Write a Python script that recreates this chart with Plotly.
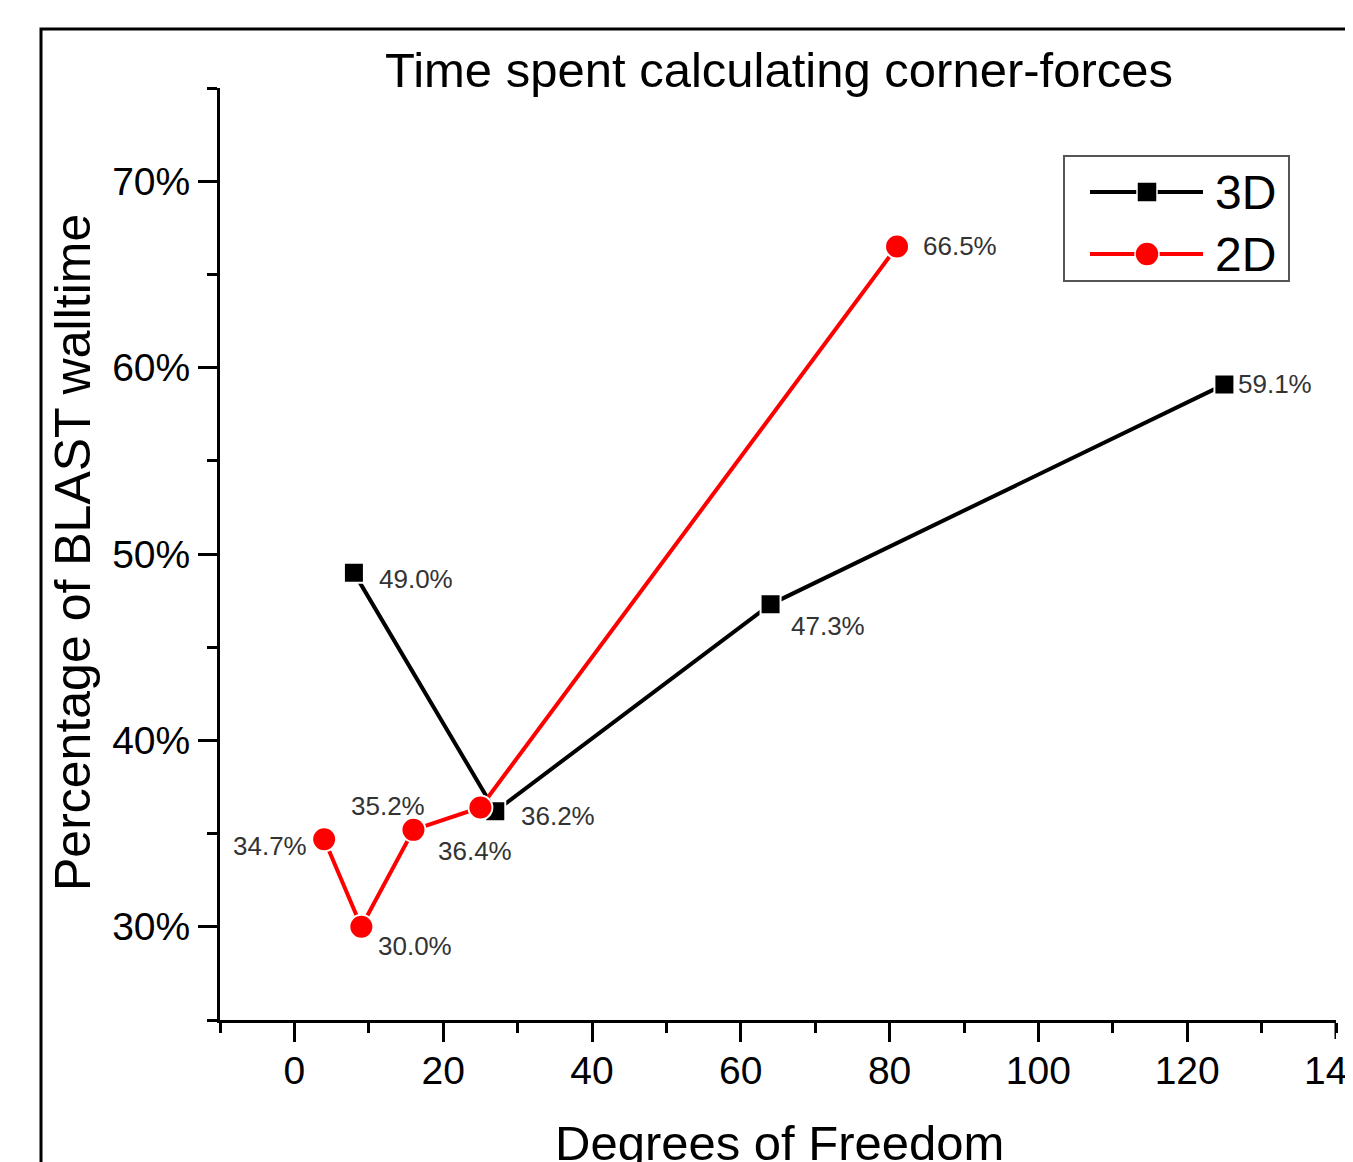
import plotly.graph_objects as go

# ---- data ----
dof_3d = [8, 27, 64, 125]
pct_3d = [49.0, 36.2, 47.3, 59.1]
dof_2d = [4, 9, 16, 25, 81]
pct_2d = [34.7, 30.0, 35.2, 36.4, 66.5]
labels_3d = ["49.0%", "36.2%", "47.3%", "59.1%"]
labels_2d = ["34.7%", "30.0%", "35.2%", "36.4%", "66.5%"]
x_ticks = [0, 20, 40, 60, 80, 100, 120, 140]
y_ticks = [30, 40, 50, 60, 70]
y_tick_text = ["30%", "40%", "50%", "60%", "70%"]

FONT = "Arial, Liberation Sans, Helvetica, sans-serif"
OFF = 8  # page body margin
W, H = 1353, 1162
# plot area in page pixels
L, R, T, B = 220, 1336, 88, 1020
PW, PH = R - L, B - T

def px(xp):
    return (xp - L) / PW

def py(yp):
    return (B - yp) / PH

fig = go.Figure()
fig.add_trace(go.Scatter(
    x=dof_3d, y=pct_3d, mode="lines+markers", name="3D",
    line=dict(color="black", width=4),
    marker=dict(symbol="square", size=20, color="black", line=dict(color="white", width=2)),
    showlegend=False))
fig.add_trace(go.Scatter(
    x=dof_2d, y=pct_2d, mode="lines+markers", name="2D",
    line=dict(color="#ff0000", width=4),
    marker=dict(symbol="circle", size=24, color="#ff0000", line=dict(color="white", width=2)),
    showlegend=False))

annotations = []
off_3d = [("left", 23, -6), ("left", 24, -5), ("left", 18, -22), ("left", 12, 0)]
off_2d = [("right", -15, -7), ("left", 15, -19), ("center", -25, 24), ("center", -5, -43), ("left", 24, 0)]
for xs, ys, labs, offs in [(dof_3d, pct_3d, labels_3d, off_3d), (dof_2d, pct_2d, labels_2d, off_2d)]:
    for xv, yv, lab, (anc, dx, dy) in zip(xs, ys, labs, offs):
        annotations.append(dict(x=xv, y=yv, xref="x", yref="y", text=lab, showarrow=False,
                                xanchor=anc, yanchor="middle", xshift=dx, yshift=dy,
                                font=dict(family=FONT, size=26, color="#333333")))

# last x tick label (drawn at the axis end, cut by the page edge as in the original)
annotations.append(dict(x=x_ticks[-1], y=py(1070), xref="x", yref="paper", text=str(x_ticks[-1]),
                        showarrow=False, xanchor="center", yanchor="middle",
                        font=dict(family=FONT, size=39, color="black")))

# axis titles
annotations.append(dict(x=px(73), y=py(553), xref="paper", yref="paper", text="Percentage of BLAST walltime",
                        textangle=-90, showarrow=False, xanchor="center", yanchor="middle",
                        font=dict(family=FONT, size=50, color="black")))
annotations.append(dict(x=px(779), y=py(1143), xref="paper", yref="paper", text="Degrees of Freedom",
                        showarrow=False, xanchor="center", yanchor="middle",
                        font=dict(family=FONT, size=49, color="black")))

# custom legend
annotations.append(dict(x=px(1213), y=py(192), xref="paper", yref="paper", text="3D", showarrow=False,
                        xanchor="left", yanchor="middle", font=dict(family=FONT, size=48, color="black")))
annotations.append(dict(x=px(1213), y=py(254), xref="paper", yref="paper", text="2D", showarrow=False,
                        xanchor="left", yanchor="middle", font=dict(family=FONT, size=48, color="black")))

shapes = [
    dict(type="rect", xref="paper", yref="paper", x0=px(41), x1=px(1420), y0=py(1260), y1=py(29),
         line=dict(color="black", width=3), fillcolor="rgba(0,0,0,0)", layer="below"),
    dict(type="rect", xref="paper", yref="paper", x0=px(1064), x1=px(1289), y0=py(281), y1=py(156),
         line=dict(color="#555555", width=2), fillcolor="white"),
    dict(type="line", xref="paper", yref="paper", x0=px(1090), x1=px(1203), y0=py(192), y1=py(192),
         line=dict(color="black", width=4)),
    dict(type="rect", xref="paper", yref="paper", x0=px(1137), x1=px(1157), y0=py(202), y1=py(182),
         line=dict(color="white", width=1.5), fillcolor="black"),
    dict(type="line", xref="paper", yref="paper", x0=px(1090), x1=px(1203), y0=py(254), y1=py(254),
         line=dict(color="#ff0000", width=4)),
    dict(type="circle", xref="paper", yref="paper", x0=px(1135), x1=px(1159), y0=py(266), y1=py(242),
         line=dict(color="white", width=1.5), fillcolor="#ff0000"),
]

fig.update_layout(
    width=W, height=H,
    margin=dict(l=L - OFF, r=W - (R - OFF), t=T - OFF, b=H - (B - OFF)),
    paper_bgcolor="white", plot_bgcolor="white",
    title=dict(text="Time spent calculating corner-forces", x=px(779), xref="paper", xanchor="center",
               y=1 - (70 - OFF) / H, yref="container", yanchor="middle",
               font=dict(family=FONT, size=49, color="black")),
    annotations=annotations,
    showlegend=False,
)
fig.update_xaxes(
    range=[-10, 140], tickvals=x_ticks[:-1], ticks="outside", ticklen=19, tickwidth=3, tickcolor="black",
    showline=True, linecolor="black", linewidth=3, showgrid=False, zeroline=False,
    tickfont=dict(family=FONT, size=39, color="black"),
    ticklabelstandoff=-5,
    minor=dict(tickvals=[-10, 10, 30, 50, 70, 90, 110, 130, 140], ticks="outside", ticklen=10, tickwidth=3,
               tickcolor="black", showgrid=False),
)
fig.update_yaxes(
    range=[25, 75], tickvals=y_ticks, ticktext=y_tick_text, ticks="outside", ticklen=19, tickwidth=3,
    tickcolor="black", showline=True, linecolor="black", linewidth=3, showgrid=False, zeroline=False,
    tickfont=dict(family=FONT, size=39, color="black"),
    minor=dict(tickvals=[25, 35, 45, 55, 65, 75], ticks="outside", ticklen=10, tickwidth=3,
               tickcolor="black", showgrid=False),
)
# major-length tick at the axis end
shapes.append(dict(type="line", xref="x", yref="paper", x0=x_ticks[-1], x1=x_ticks[-1],
                   y0=0, y1=py(1039), line=dict(color="black", width=3)))
fig.update_layout(shapes=shapes)

fig.write_html("out.html")
